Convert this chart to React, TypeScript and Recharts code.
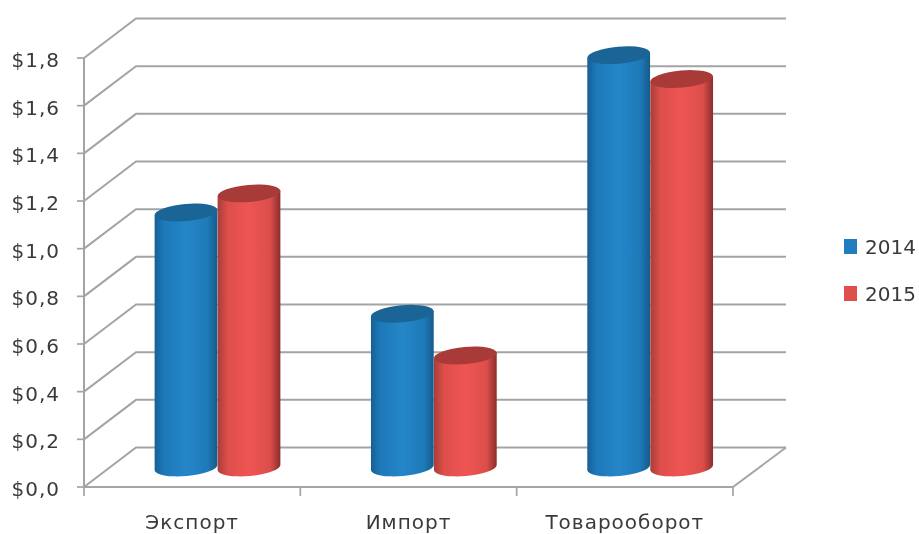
import { BarChart, Bar, CartesianGrid, Legend, XAxis, YAxis } from 'recharts';

const categories = ['Экспорт', 'Импорт', 'Товарооборот'];
const values2014 = [1.07, 0.645, 1.73];
const values2015 = [1.15, 0.47, 1.63];
const yTicks = [0, 0.2, 0.4, 0.6, 0.8, 1.0, 1.2, 1.4, 1.6, 1.8];

const data = categories.map((name, i) => ({ name, y2014: values2014[i], y2015: values2015[i] }));

const WIDTH = 919;
const HEIGHT = 534;
const PLOT_LEFT = 84;
const PLOT_TOP = 58;
const PLOT_W = 649;
const PLOT_H = 429;
const LINE = '#a4a4a4';
const TEXT = '#3a3a3a';
const FONT = '"DejaVu Sans", sans-serif';

// depth of the fake 3D box
const BACK_DX = 53;
const BACK_DY = -39.5;
// cylinders stand in the middle of the floor
const BAR_DX = 25.5;
const BAR_DY = -19.5;
const TILT = 5;
const RY = 8.5;

const money = (v: number) => `$${v.toFixed(1).replace('.', ',')}`;

const GridLine = (props: any) => {
  const { x1, x2, y1 } = props;
  const isFloor = Math.abs(y1 - (PLOT_TOP + PLOT_H)) < 1;
  const y = y1 + BACK_DY;
  return (
    <g stroke={LINE} strokeWidth={2} fill="none">
      <polyline points={`${x1},${y1} ${x1 + BACK_DX - 1},${y} ${x2 + BACK_DX},${y}`} />
      {isFloor && <line x1={x2} y1={y1} x2={x2 + BACK_DX} y2={y} />}
    </g>
  );
};

const CategoryTick = (props: any) => {
  const { x, y, payload, index } = props;
  const half = PLOT_W / categories.length / 2;
  return (
    <g>
      <line x1={x - half} y1={y - 8} x2={x - half} y2={y + 1} stroke={LINE} strokeWidth={1.7} />
      {index === categories.length - 1 && (
        <line x1={x + half} y1={y - 8} x2={x + half} y2={y + 1} stroke={LINE} strokeWidth={1.7} />
      )}
      <text x={x} y={y + 34} textAnchor="middle" fontSize={20} letterSpacing={1} fontFamily={FONT} fill={TEXT}>
        {payload.value}
      </text>
    </g>
  );
};

const Cylinder = (gradient: string, topColor: string) => (props: any) => {
  const { x, y, width, height } = props;
  const rx = width / 2;
  const cx = x + rx + BAR_DX;
  const top = y + BAR_DY;
  const bottom = y + height + BAR_DY;
  const rad = (TILT * Math.PI) / 180;
  const ex = rx * Math.cos(rad);
  const ey = rx * Math.sin(rad);
  const body = [
    `M${cx - ex},${top + ey}`,
    `L${cx - ex},${bottom + ey}`,
    `A${rx},${RY} ${-TILT} 0 0 ${cx + ex},${bottom - ey}`,
    `L${cx + ex},${top - ey}`,
    'Z',
  ].join(' ');
  return (
    <g>
      <path d={body} fill={`url(#${gradient})`} />
      <ellipse cx={cx} cy={top} rx={rx} ry={RY} fill={topColor} transform={`rotate(${-TILT} ${cx} ${top})`} />
    </g>
  );
};

const LegendBox = ({ payload }: any) => (
  <div style={{ fontFamily: FONT, fontSize: 20, color: TEXT }}>
    {(payload || []).map((item: any) => (
      <div key={item.value} style={{ display: 'flex', alignItems: 'center', height: 47 }}>
        <span style={{ width: 13, height: 15, background: item.color, marginRight: 8 }} />
        {item.value}
      </div>
    ))}
  </div>
);

export default function App() {
  return (
    <div style={{ width: WIDTH, height: HEIGHT, filter: 'blur(0.7px)' }}>
      <style>{'body { margin: 0; }'}</style>
      <BarChart
        width={WIDTH}
        height={HEIGHT}
        data={data}
        barSize={63}
        barGap={0}
        margin={{ top: PLOT_TOP, right: WIDTH - PLOT_LEFT - PLOT_W, bottom: 0, left: 0 }}
      >
        <defs>
          <linearGradient id="blueBody" x1="0" y1="0" x2="1" y2="0">
            <stop offset="0" stopColor="#175f94" />
            <stop offset="0.14" stopColor="#1d78b8" />
            <stop offset="0.5" stopColor="#2486c8" />
            <stop offset="0.84" stopColor="#1e7ab9" />
            <stop offset="1" stopColor="#155b8c" />
          </linearGradient>
          <linearGradient id="redBody" x1="0" y1="0" x2="1" y2="0">
            <stop offset="0" stopColor="#a83d3a" />
            <stop offset="0.16" stopColor="#dd4e4a" />
            <stop offset="0.5" stopColor="#ee5553" />
            <stop offset="0.84" stopColor="#dc4e4b" />
            <stop offset="1" stopColor="#8a2e2c" />
          </linearGradient>
        </defs>
        <CartesianGrid vertical={false} horizontal={GridLine} />
        <XAxis
          dataKey="name"
          height={HEIGHT - PLOT_TOP - PLOT_H}
          axisLine={{ stroke: LINE, strokeWidth: 2 }}
          tickLine={false}
          interval={0}
          tick={CategoryTick}
        />
        <YAxis
          width={PLOT_LEFT}
          domain={[0, 1.8]}
          ticks={yTicks}
          interval={0}
          tickFormatter={money}
          axisLine={{ stroke: LINE, strokeWidth: 2 }}
          tickLine={{ stroke: LINE, strokeWidth: 1.7 }}
          tickSize={7}
          tickMargin={17}
          tick={{ fontSize: 20, fontFamily: FONT, fill: TEXT, dy: 2, letterSpacing: 1 }}
        />
        <Legend
          layout="vertical"
          align="center"
          verticalAlign="middle"
          content={LegendBox}
          wrapperStyle={{ left: 844, top: 223, width: 75 }}
        />
        <Bar dataKey="y2014" name="2014" fill="#1f7dc0" isAnimationActive={false} shape={Cylinder('blueBody', '#1a6496')} />
        <Bar dataKey="y2015" name="2015" fill="#df4f4c" isAnimationActive={false} shape={Cylinder('redBody', '#a83a37')} />
      </BarChart>
    </div>
  );
}
